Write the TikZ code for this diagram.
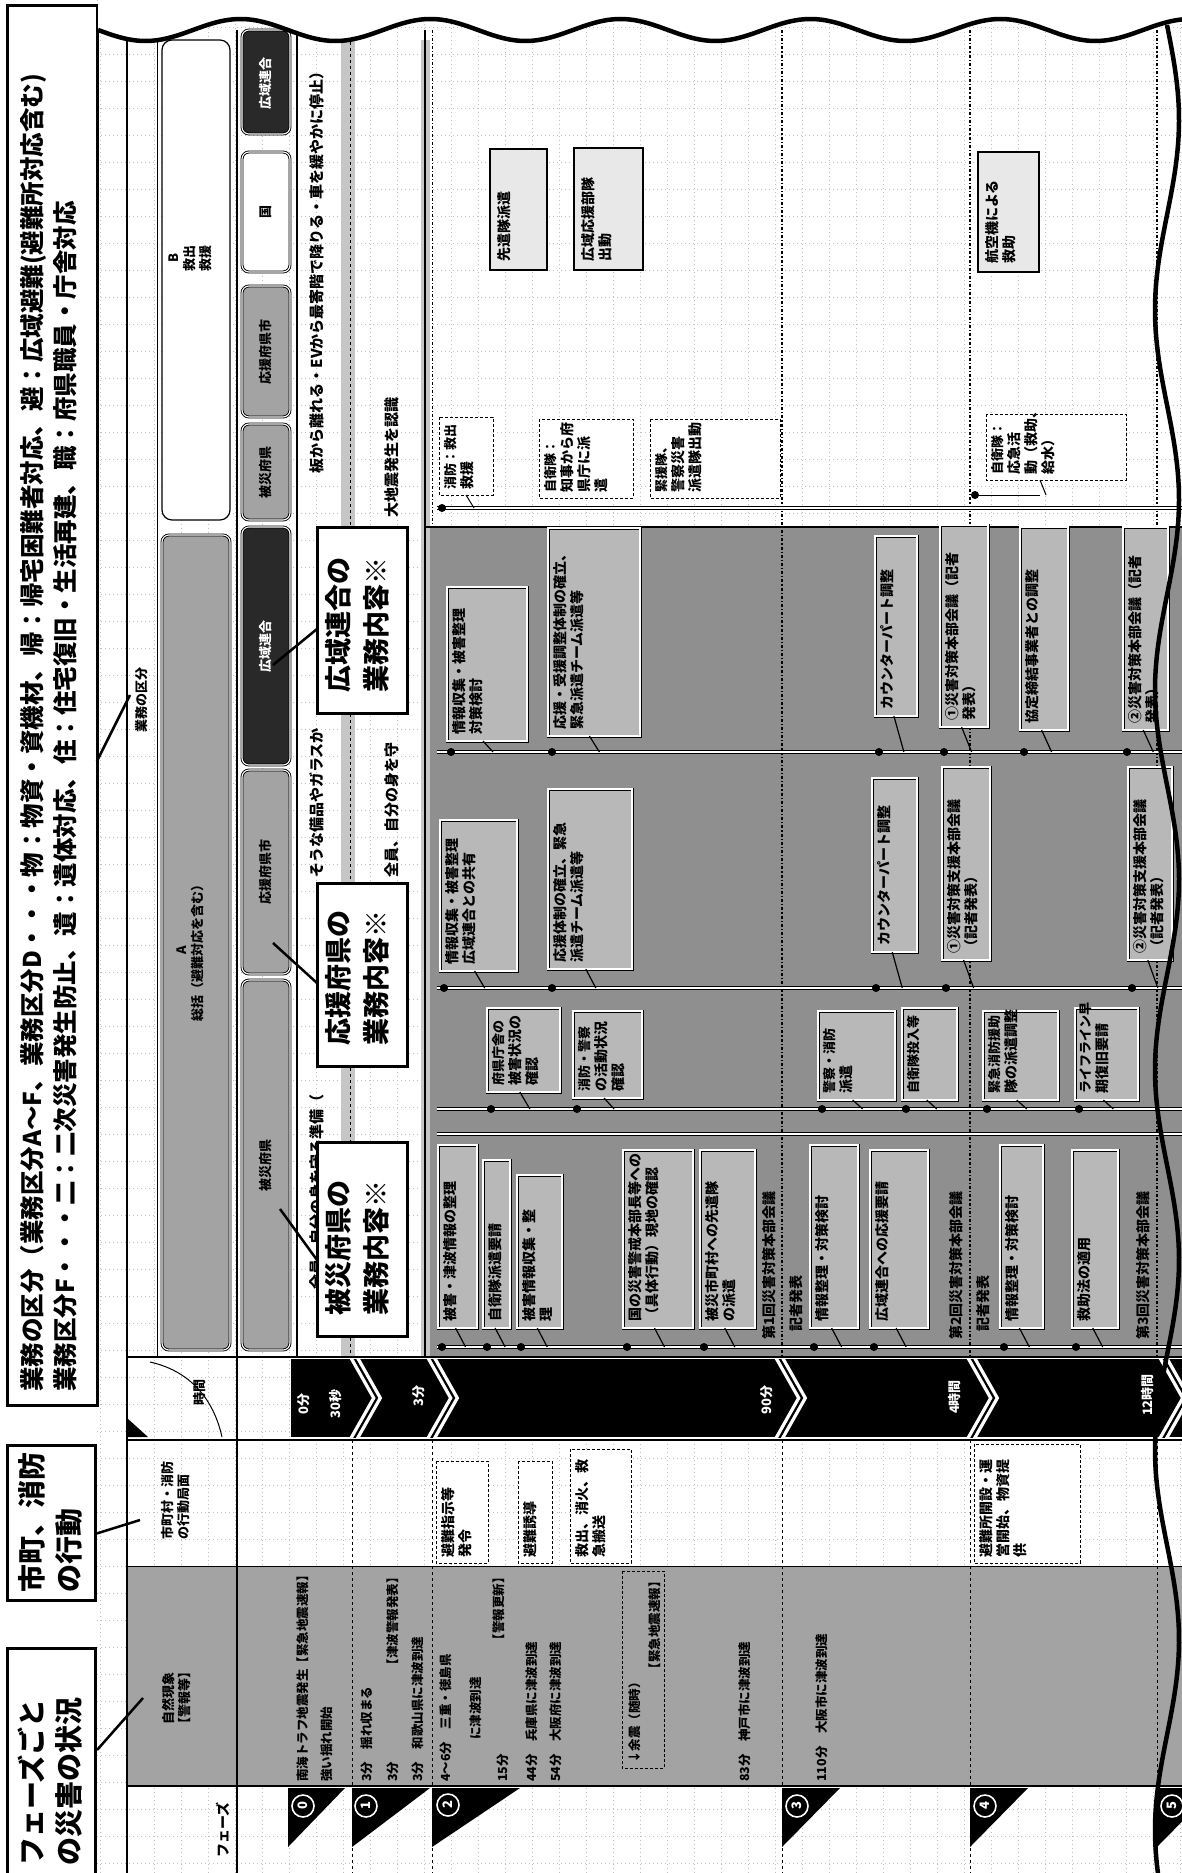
\documentclass[tikz,border=0pt]{standalone}
\usepackage{fontspec}
\setmainfont{Noto Sans CJK JP}
\usetikzlibrary{calc}
\definecolor{lanegray}{gray}{0.56}
\definecolor{boxgray}{gray}{0.72}
\definecolor{natgray}{gray}{0.64}
\definecolor{hdrgray}{gray}{0.64}
\definecolor{darkhdr}{gray}{0.16}
\definecolor{gridc}{gray}{0.75}
% lane box with leader and dot: name x1 y1 x2 y2 lineY text
\newcommand{\lbx}[7]{%
  \path[lbox] (#2,#3) rectangle (#4,#5);
  \draw[line width=1.2pt] ({#2+0.45*(#4-#2)},#5) -- ({#2+0.45*(#4-#2)+10},#6);
  \fill ({#2+4},#6) circle[radius=4pt];
  \node[vtext, anchor=north west] (#1) at ({#2+5},{#5-6}) {#7};}
% B lane solid box: name x1 y1 x2 y2 text
\newcommand{\qbx}[6]{%
  \path[qbox] (#2,#3) rectangle (#4,#5);
  \node[vtext, anchor=north west] (#1) at ({#2+7},{#5-8}) {#6};}
% dashed white box: name x1 y1 x2 y2 text
\newcommand{\dbx}[6]{%
  \path[dbox] (#2,#3) rectangle (#4,#5);
  \node[vtext, anchor=north west] (#1) at ({#2+5},{#5-5}) {#6};}
\begin{document}
\begin{tikzpicture}[x=1pt,y=-1pt,
  vtext/.style={rotate=90, align=left, inner sep=0pt, font=\bfseries\fontsize{14}{17}\selectfont},
  ntext/.style={rotate=90, inner sep=0pt, font=\bfseries\fontsize{12.5}{14}\selectfont},
  htext/.style={rotate=90, align=center, inner sep=0pt, font=\bfseries\fontsize{13}{16}\selectfont},
  wtext/.style={rotate=90, inner sep=0pt, font=\bfseries\fontsize{15}{17}\selectfont},
  btext/.style={rotate=90, inner sep=0pt, text=white, font=\bfseries\fontsize{13}{15}\selectfont},
  ctext/.style={rotate=90, align=left, inner sep=0pt, font=\bfseries\fontsize{27}{38}\selectfont},
  cbig/.style={rotate=90, align=left, inner sep=0pt, font=\bfseries\fontsize{24.5}{33}\selectfont},
  lbox/.style={draw=black, line width=0.9pt, double=white, double distance=1.2pt, fill=boxgray},
  qbox/.style={draw=black, line width=1.4pt, fill=gray!18},
  dbox/.style={draw=black, line width=1pt, dash pattern=on 3pt off 2pt, fill=white},
  callout/.style={draw=black, line width=3pt, fill=white},
  tline/.style={draw=black, line width=1.2pt, double=white, double distance=1.4pt},
  gline/.style={draw=gridc, line width=0.4pt, dash pattern=on 1pt off 3pt},
  hdr/.style={draw=black, line width=0.9pt, double=white, double distance=1.1pt, rounded corners=7pt},
  phc/.style={circle, draw=white, line width=1.6pt, fill=black, text=white, inner sep=0pt, minimum size=22pt, rotate=90, font=\bfseries\fontsize{13}{13}\selectfont},
]
\useasboundingbox (0,0) rectangle (1182,1873);
\fill[white] (0,0) rectangle (1182,1873);

% spreadsheet grid
\foreach \yy in {0,27,...,1863} {\draw[gline] (97,\yy) -- (1182,\yy);}
\foreach \xx in {100,127,...,1180} {\draw[gline] (\xx,0) -- (\xx,1873);}

% fills
\fill[natgray] (127,1566) rectangle (1182,1786);
\fill[lanegray] (430,527) rectangle (1182,1357);
\fill[gray!45] (341,40) rectangle (355,1357);
\fill[gray!45] (421,40) rectangle (430,1357);
\fill[black] (291,1359) rectangle (1182,1437);

% structure lines
\draw[line width=1.4pt] (127,30) -- (127,1873);
\draw[line width=1pt] (157,30) -- (157,1357);
\draw[line width=1.4pt] (237,30) -- (237,1873);
\draw[line width=1.4pt] (297,30) -- (297,1357);
\draw[line width=1.4pt] (425,30) -- (425,1357);
\draw[line width=1pt, dashed] (350,30) -- (350,1357);
\draw[line width=1pt, dash dot] (432,30) -- (432,527);
\foreach \px in {782,970,1157} {\draw[line width=1.2pt, dash dot] (\px,30) -- (\px,1357);}
\draw[line width=1.4pt] (127,1357) -- (1182,1357);
\draw[line width=1.4pt] (127,1440) -- (1182,1440);
\draw[line width=1pt] (127,1566) -- (1182,1566);
\draw[line width=1.4pt] (127,1786) -- (1182,1786);
\foreach \px in {352,432,782,970,1157} {\draw[line width=1pt, dashed] (\px,1440) -- (\px,1873);}
\draw[line width=1.2pt] (425,527) -- (1182,527);

% timelines
\foreach \ly in {752,988,1109,1134,1347} {\draw[tline] (437,\ly) -- (1182,\ly);}
\draw[tline] (437,508) -- (1182,508);
\fill (442,508) circle[radius=4pt];
\fill (975,495) circle[radius=4pt];
\draw[line width=1pt] (975,495) -- (1040,495);

% header column
\node[htext] (hk) at (142,700) {業務の区分};
\path[draw=black, line width=1.2pt, rounded corners=10pt, fill=white] (162,40) rectangle (230,520);
\node[htext] (hB) at (190,258) {B\\救出\\救援};
\path[hdr, fill=hdrgray] (162,535) rectangle (230,1350);
\node[htext] (hA) at (190,950) {A\\総括（避難対応を含む）};
\draw[line width=1pt] (150,1362) .. controls (195,1372) and (215,1405) .. (222,1437);
\node[htext] (tm) at (200,1392) {時間};
\fill (127,1418) -- (148,1437) -- (127,1437) -- cycle;
\node[htext, align=left] (hm) at (176,1500) {市町村・消防\\の行動局面};
\node[htext] (hn) at (176,1698) {自然現象\\【警報等】};
\node[htext, font=\bfseries\fontsize{14}{16}\selectfont] (hf) at (223,1830) {フェーズ};

% organisation headers
\path[hdr, fill=darkhdr] (242,30) rectangle (290,134);
\node[btext] (ob1) at (266,84) {広域連合};
\path[hdr, fill=white] (242,152) rectangle (290,272);
\node[htext] (ob2) at (266,212) {国};
\path[hdr, fill=hdrgray] (242,286) rectangle (290,417);
\node[htext] (ob3) at (266,352) {応援府県市};
\path[hdr, fill=hdrgray] (242,424) rectangle (290,520);
\node[htext] (ob4) at (266,472) {被災府県};
\path[hdr, fill=darkhdr] (242,527) rectangle (290,765);
\node[btext] (ob5) at (266,646) {広域連合};
\path[hdr, fill=hdrgray] (242,770) rectangle (290,974);
\node[htext] (ob6) at (266,872) {応援府県市};
\path[hdr, fill=hdrgray] (242,980) rectangle (290,1350);
\node[htext] (ob7) at (266,1165) {被災府県};

% phase 0-1 column texts
\node[wtext, anchor=west] (w1a) at (317,1290) {全員、自分の身を守る準備（};
\node[wtext, anchor=west] (w1b) at (317,878) {そうな備品やガラスか};
\node[wtext, anchor=east] (w1c) at (317,64) {板から離れる・EVから最寄階で降りる・車を緩やかに停止）};
\node[wtext, anchor=west] (w2a) at (392,878) {全員、自分の身を守};
\node[wtext, anchor=east] (w2b) at (392,397) {大地震発生を認識};

% B lanes
\qbx{q1}{490}{149}{547}{270}{先遣隊派遣}
\qbx{q2}{574}{148}{643}{270}{広域応援部隊\\出動}
\qbx{q3}{978}{152}{1039}{272}{航空機による\\救助}
\dbx{r1}{439}{417}{493}{495}{\fontsize{13}{15}\selectfont 消防：救出\\救援}
\dbx{r2}{539}{419}{633}{498}{\fontsize{13}{16}\selectfont 自衛隊：\\知事から府\\県庁に派\\遣}
\dbx{r3}{650}{419}{780}{498}{\fontsize{13}{16}\selectfont 緊援隊、\\警察災害\\派遣隊出動}
\dbx{r4}{986}{414}{1126}{480}{\fontsize{13}{16}\selectfont 自衛隊：\\応急活\\動（救助、\\給水）}
\draw[line width=1pt] (466,495) -- (474,508);
\draw[line width=1pt] (1040,480) -- (1046,495);

% lane: 広域連合
\lbx{a1}{447}{587}{527}{741}{752}{情報収集・被害整理\\対策検討}
\lbx{a2}{548}{528}{640}{736}{752}{応援・受援調整体制の確立、\\緊急派遣チーム派遣等}
\lbx{a3}{875}{536}{917}{716}{752}{カウンターパート調整}
\lbx{a4}{940}{525}{988}{727}{752}{①災害対策本部会議（記者\\発表）}
\lbx{a5}{1020}{527}{1068}{730}{752}{協定締結事業者との調整}
\lbx{a6}{1123}{527}{1168}{730}{752}{②災害対策本部会議（記者\\発表）}

% lane: 応援府県市
\lbx{b1}{440}{820}{517}{971}{988}{情報収集・被害整理\\広域連合との共有}
\lbx{b2}{548}{789}{632}{969}{988}{応援体制の確立、緊急\\派遣チーム派遣等}
\lbx{b3}{872}{778}{917}{952}{988}{カウンターパート調整}
\lbx{b4}{942}{767}{990}{960}{988}{①災害対策支援本部会議\\（記者発表）}
\lbx{b5}{1128}{767}{1172}{960}{988}{②災害対策支援本部会議\\（記者発表）}

% lane: 被災府県 upper
\lbx{s1}{487}{1008}{560}{1092}{1109}{\fontsize{13}{16}\selectfont 府県庁舎の\\被害状況の\\確認}
\lbx{s2}{573}{1011}{642}{1098}{1109}{\fontsize{13}{16}\selectfont 消防・警察\\の活動状況\\確認}
\lbx{s3}{818}{1011}{895}{1100}{1109}{\fontsize{13}{16}\selectfont 警察・消防\\派遣}
\lbx{s4}{902}{1008}{957}{1100}{1109}{\fontsize{13}{16}\selectfont 自衛隊投入等}
\lbx{s5}{983}{1011}{1058}{1100}{1109}{\fontsize{13}{16}\selectfont 緊急消防援助\\隊の派遣調整}
\lbx{s6}{1075}{1008}{1138}{1100}{1109}{\fontsize{13}{16}\selectfont ライフライン早\\期復旧要請}

% lane: 被災府県 lower
\lbx{p1}{438}{1145}{477}{1328}{1347}{被害・津波情報の整理}
\lbx{p2}{483}{1160}{510}{1328}{1347}{自衛隊派遣要請}
\lbx{p3}{517}{1175}{562}{1328}{1347}{被害情報収集・整\\理}
\lbx{p4}{623}{1150}{693}{1328}{1347}{国の災害警戒本部長等への\\（具体行動）現地の確認}
\lbx{p5}{700}{1150}{755}{1328}{1347}{被災市町村への先遣隊\\の派遣}
\node[vtext, anchor=west] (t1) at (769,1340) {第1回災害対策本部会議};
\node[vtext, anchor=west] (t2) at (796,1332) {記者発表};
\lbx{p6}{810}{1145}{858}{1328}{1347}{情報整理・対策検討}
\lbx{p7}{870}{1150}{928}{1328}{1347}{広域連合への応援要請}
\node[vtext, anchor=west] (t3) at (956,1340) {第2回災害対策本部会議};
\node[vtext, anchor=west] (t4) at (983,1332) {記者発表};
\lbx{p8}{1000}{1145}{1043}{1328}{1347}{情報整理・対策検討}
\lbx{p9}{1072}{1150}{1118}{1328}{1347}{救助法の適用}
\node[vtext, anchor=west] (t5) at (1143,1340) {第3回災害対策本部会議};

% time band chevrons and labels
\begin{scope}
\clip (291,1359) rectangle (1182,1437);
\foreach \cx in {351,428,776,968,1160} {
  \draw[white, line width=9pt, line join=miter] (\cx,1352) -- ({\cx+26},1398) -- (\cx,1444);
  \draw[black, line width=2.2pt, line join=miter] (\cx,1352) -- ({\cx+26},1398) -- (\cx,1444);}
\end{scope}
\node[btext] (b0) at (304,1404) {0分};
\node[btext] (b30) at (336,1404) {30秒};
\node[btext] (b3) at (419,1396) {3分};
\node[btext] (b90) at (767,1400) {90分};
\node[btext] (b4h) at (955,1397) {4時間};
\node[btext] (b12) at (1148,1395) {12時間};

% municipal row
\dbx{m1}{436}{1461}{488}{1563}{避難指示等\\発令}
\dbx{m2}{518}{1461}{552}{1563}{避難誘導}
\dbx{m3}{570}{1449}{631}{1563}{救出、消火、救\\急搬送}
\dbx{m4}{974}{1444}{1080}{1563}{避難所開設・運\\営開始、物資提\\供}

% natural phenomena row
\node[ntext, anchor=west] (n1) at (303,1782) {南海トラフ地震発生【緊急地震速報】};
\node[ntext, anchor=west] (n2) at (327,1782) {強い揺れ開始};
\node[ntext, anchor=west] (n3) at (367,1782) {3分　揺れ収まる};
\node[ntext, anchor=west] (n4) at (393,1782) {3分};
\node[ntext, anchor=east] (n4b) at (393,1571) {【津波警報発表】};
\node[ntext, anchor=west] (n5) at (418,1782) {3分　和歌山県に津波到達};
\node[ntext, anchor=west] (n6) at (446,1782) {4～6分　三重・徳島県};
\node[ntext, anchor=west] (n7) at (476,1740) {に津波到達};
\node[ntext, anchor=east] (n7b) at (499,1571) {【警報更新】};
\node[ntext, anchor=west] (n8) at (503,1782) {15分};
\node[ntext, anchor=west] (n9) at (532,1782) {44分　兵庫県に津波到達};
\node[ntext, anchor=west] (n10) at (556,1782) {54分　大阪府に津波到達};
\draw[line width=0.8pt, dash pattern=on 3pt off 2pt] (622,1571) rectangle (664,1768);
\node[ntext, anchor=west] (n11) at (635,1764) {↓余震（随時）};
\node[ntext, anchor=east] (n11b) at (655,1575) {【緊急地震速報】};
\node[ntext, anchor=west] (n12) at (745,1782) {83分　神戸市に津波到達};
\node[ntext, anchor=west] (n13) at (822,1782) {110分　大阪市に津波到達};

% phase row: black right triangles (right angle at top-left) with circled numbers
\fill (288,1788) -- (345,1788) -- (288,1847) -- cycle;
\fill (352,1788) -- (430,1788) -- (352,1847) -- cycle;
\fill (432,1788) -- (520,1788) -- (432,1847) -- cycle;
\fill (782,1788) -- (840,1788) -- (782,1847) -- cycle;
\fill (970,1788) -- (1028,1788) -- (970,1847) -- cycle;
\fill (1157,1788) -- (1215,1788) -- (1157,1847) -- cycle;
\node[phc] (ph0) at (303,1806) {0};
\node[phc] (ph1) at (366,1806) {1};
\node[phc] (ph2) at (448,1805) {2};
\node[phc] (ph3) at (797,1806) {3};
\node[phc] (ph4) at (985,1806) {4};
\node[phc] (ph5) at (1172,1806) {5};

% callouts in work area
\path[callout] (317,527) rectangle (407,713);
\node[ctext, anchor=north west] (k1) at (325,693) {広域連合の\\業務内容※};
\draw[line width=2.5pt] (317,629) -- (273,665);
\path[callout] (317,883) rectangle (407,1066);
\node[ctext, anchor=north west] (k2) at (325,1046) {応援府県の\\業務内容※};
\draw[line width=2.5pt] (317,983) -- (273,943);
\path[callout] (317,1142) rectangle (407,1336);
\node[ctext, anchor=north west] (k3) at (325,1316) {被災府県の\\業務内容※};
\draw[line width=2.5pt] (317,1260) -- (280,1209);

% left callouts
\path[callout] (7,6) rectangle (97,1405);
\node[cbig, anchor=north west] (c1) at (20,1392) {業務の区分（業務区分A～F、業務区分D・・・物：物資・資機材、帰：帰宅困難者対応、避：広域避難(避難所対応含む)\\業務区分F・・・二：二次災害発生防止、遺：遺体対応、住：住宅復旧・生活再建、職：府県職員・庁舎対応};
\draw[line width=2.5pt] (97,761) -- (130,695);
\path[callout] (7,1445) rectangle (95,1600);
\node[ctext, font=\bfseries\fontsize{28}{37}\selectfont, anchor=north west] (c2) at (18,1593) {市町、消防\\の行動};
\draw[line width=2.5pt] (95,1534) -- (140,1520);
\path[callout] (7,1648) rectangle (95,1885);
\node[ctext, font=\bfseries\fontsize{28}{37}\selectfont, anchor=north west] (c3) at (18,1866) {フェーズごと\\の災害の状況};
\draw[line width=2.5pt] (97,1750) -- (143,1698);

% torn edges
\fill[white] (98,-5) -- plot[domain=98:1182, samples=250] (\x,{30+11*sin((\x-98)*1.8947)}) -- (1182,-5) -- cycle;
\draw[line width=4.5pt] plot[domain=98:1182, samples=250] (\x,{30+11*sin((\x-98)*1.8947)});
\draw[line width=4.5pt] plot[domain=25:1873, samples=250] ({1167+12*sin((\x-25)*0.9474)},\x);
\end{tikzpicture}
\end{document}
